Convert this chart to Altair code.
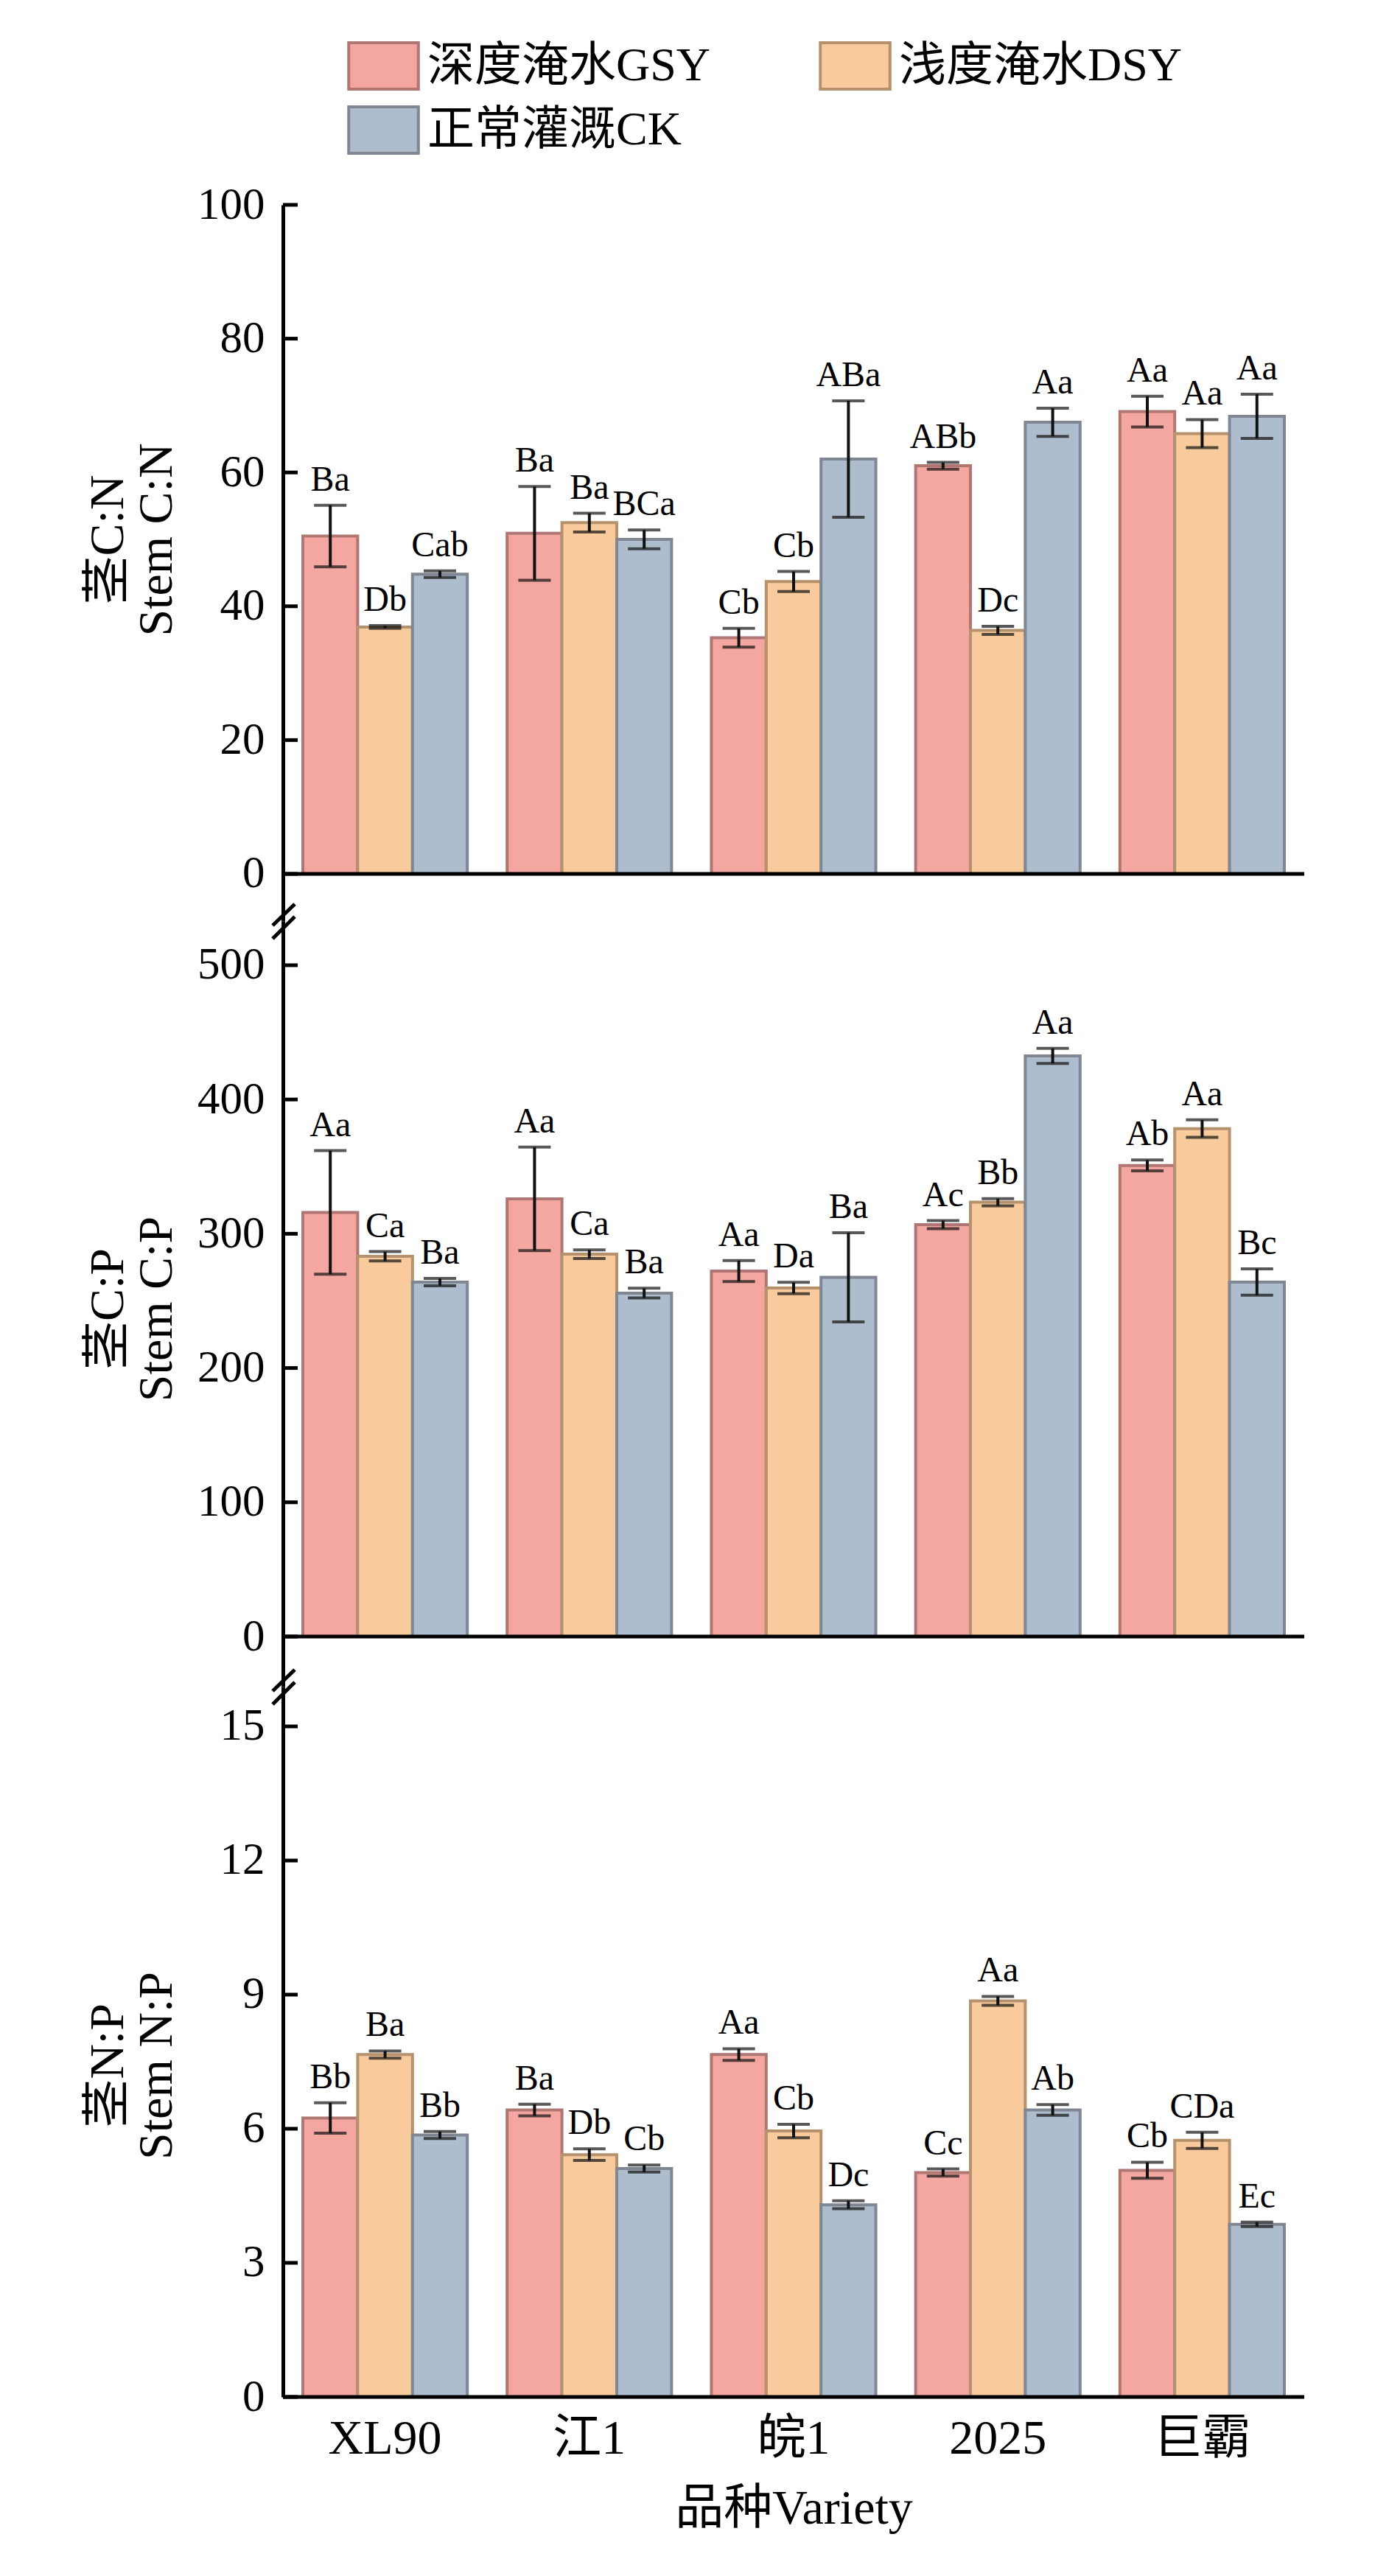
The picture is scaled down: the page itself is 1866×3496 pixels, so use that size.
import altair as alt
import pandas as pd

FONT = "Liberation Serif, Noto Sans CJK SC"

varieties = ["XL90", "江1", "皖1", "2025", "巨霸"]
treatments = ["深度淹水GSY", "浅度淹水DSY", "正常灌溉CK"]
fill_colors = ["#F4A6A0", "#F9CB9C", "#ADBDCE"]
stroke_colors = ["#B07673", "#B5916E", "#808692"]

# Stem C:N
cn_gsy = [50.5, 50.9, 35.3, 61.0, 69.1]
cn_dsy = [36.9, 52.5, 43.7, 36.4, 65.8]
cn_ck = [44.8, 50.0, 62.0, 67.5, 68.4]
cn_gsy_err = [4.6, 7.0, 1.4, 0.5, 2.3]
cn_dsy_err = [0.2, 1.4, 1.5, 0.6, 2.1]
cn_ck_err = [0.5, 1.4, 8.7, 2.1, 3.3]
cn_gsy_lab = ["Ba", "Ba", "Cb", "ABb", "Aa"]
cn_dsy_lab = ["Db", "Ba", "Cb", "Dc", "Aa"]
cn_ck_lab = ["Cab", "BCa", "ABa", "Aa", "Aa"]

# Stem C:P
cp_gsy = [315.9, 326.0, 272.2, 306.8, 350.9]
cp_dsy = [283.2, 284.8, 259.6, 323.5, 378.3]
cp_ck = [264.0, 255.8, 267.6, 432.5, 264.0]
cp_gsy_err = [46.0, 38.5, 7.8, 3.0, 4.0]
cp_dsy_err = [3.5, 3.2, 4.2, 2.7, 6.5]
cp_ck_err = [2.7, 3.6, 33.2, 5.6, 9.8]
cp_gsy_lab = ["Aa", "Aa", "Aa", "Ac", "Ab"]
cp_dsy_lab = ["Ca", "Ca", "Da", "Bb", "Aa"]
cp_ck_lab = ["Ba", "Ba", "Ba", "Aa", "Bc"]

# Stem N:P
np_gsy = [6.24, 6.42, 7.66, 5.02, 5.07]
np_dsy = [7.66, 5.42, 5.95, 8.86, 5.74]
np_ck = [5.86, 5.11, 4.30, 6.42, 3.86]
np_gsy_err = [0.34, 0.13, 0.13, 0.08, 0.18]
np_dsy_err = [0.08, 0.13, 0.15, 0.10, 0.18]
np_ck_err = [0.08, 0.08, 0.09, 0.12, 0.05]
np_gsy_lab = ["Bb", "Ba", "Aa", "Cc", "Cb"]
np_dsy_lab = ["Ba", "Db", "Cb", "Aa", "CDa"]
np_ck_lab = ["Bb", "Cb", "Dc", "Ab", "Ec"]

cn_ticks = [0, 20, 40, 60, 80, 100]
cp_ticks = [0, 100, 200, 300, 400, 500]
np_ticks = [0, 3, 6, 9, 12, 15]

W = 1386


def make_df(means, errs, labs):
    rows = []
    for t, m, e, l in zip(treatments, means, errs, labs):
        for v, mv, ev, lv in zip(varieties, m, e, l):
            rows.append({"variety": v, "treatment": t, "mean": mv,
                         "lo": mv - ev, "hi": mv + ev, "label": lv})
    return pd.DataFrame(rows)


legend = alt.Legend(
    orient="none", legendX=103, legendY=-222, columns=2, direction="horizontal",
    title=None, symbolType="M-1.5,-1H1.5V1H-1.5Z", symbolSize=3969,
    symbolStrokeWidth=4, symbolOpacity=1, labelFont=FONT, labelFontSize=64,
    labelColor="black", labelOffset=26, labelLimit=0, columnPadding=140,
    rowPadding=8,
)


def panel(df, dom, ticks, h, title, title_y, bottom, brk):
    if bottom:
        xaxis = alt.Axis(labelFont=FONT, labelFontSize=66, labelColor="black",
                         labelPadding=24, labelAngle=0, ticks=False, domain=False,
                         title="品种Variety", titleFont=FONT, titleFontSize=66,
                         titleFontWeight="normal", titleColor="black", titlePadding=30)
    else:
        xaxis = None
    x_enc = alt.X("variety:N", sort=varieties,
                  scale=alt.Scale(paddingInner=0.195, paddingOuter=0.0975), axis=xaxis)
    xo = alt.XOffset("treatment:N", sort=treatments,
                     scale=alt.Scale(paddingInner=0, paddingOuter=0))
    yscale = alt.Scale(domain=dom, nice=False, zero=False)
    yaxis = alt.Axis(values=ticks, ticks=False, grid=False, domainColor="black",
                     domainWidth=5, labelFont=FONT, labelFontSize=61,
                     labelColor="black", labelPadding=25, title=title,
                     titleFont=FONT, titleFontSize=66, titleFontWeight="normal",
                     titleColor="black", titleX=-218, titleY=title_y,
                     titleBaseline="alphabetic", titleAlign="center",
                     titleLineHeight=66)

    def yf(f):
        return alt.Y(f"{f}:Q", scale=yscale, axis=yaxis)

    base = alt.Chart(df)
    bars = base.mark_bar(strokeWidth=4).encode(
        x=x_enc, xOffset=xo, y=yf("mean"), y2=alt.datum(0),
        fill=alt.Fill("treatment:N", sort=treatments,
                      scale=alt.Scale(domain=treatments, range=fill_colors), legend=legend),
        stroke=alt.Stroke("treatment:N", sort=treatments,
                          scale=alt.Scale(domain=treatments, range=stroke_colors), legend=legend),
    )
    err = base.mark_rule(strokeWidth=4, color="#111111").encode(
        x=x_enc, xOffset=xo, y=yf("lo"), y2="hi:Q")
    cap_lo = base.mark_tick(orient="horizontal", size=44, thickness=4, color="#111111").encode(
        x=x_enc, xOffset=xo, y=yf("lo"))
    cap_hi = base.mark_tick(orient="horizontal", size=44, thickness=4, color="#111111").encode(
        x=x_enc, xOffset=xo, y=yf("hi"))
    labels = base.mark_text(baseline="alphabetic", dy=-20, fontSize=48, font=FONT,
                            color="black").encode(
        x=x_enc, xOffset=xo, y=yf("hi"), text="label:N")
    zero = alt.Chart(pd.DataFrame({"z": [0]})).mark_rule(strokeWidth=5, color="black").encode(
        y=yf("z"), x=alt.value(0), x2=alt.value(W))
    tk = alt.Chart(pd.DataFrame({"t": ticks})).mark_rule(strokeWidth=5, color="black").encode(
        y=yf("t"), x=alt.value(0), x2=alt.value(20))
    layers = [bars, err, cap_lo, cap_hi, labels, zero, tk]
    if brk:
        one = pd.DataFrame({"k": [0]})
        for a, b in [(6, -23), (24, -6)]:
            layers.append(alt.Chart(one).mark_rule(strokeWidth=5, color="black").encode(
                x=alt.value(-14), x2=alt.value(16), y=alt.value(h + a), y2=alt.value(h + b)))
    return alt.layer(*layers).properties(width=W, height=h)


p1 = panel(make_df([cn_gsy, cn_dsy, cn_ck], [cn_gsy_err, cn_dsy_err, cn_ck_err],
                   [cn_gsy_lab, cn_dsy_lab, cn_ck_lab]),
           [-7.05, 100], cn_ticks, 972, ["茎C:N", "Stem C:N"], 454, False, True)
p2 = panel(make_df([cp_gsy, cp_dsy, cp_ck], [cp_gsy_err, cp_dsy_err, cp_ck_err],
                   [cp_gsy_lab, cp_dsy_lab, cp_ck_lab]),
           [-37.3, 532.9], cp_ticks, 1039, ["茎C:P", "Stem C:P"], 526, False, True)
p3 = panel(make_df([np_gsy, np_dsy, np_ck], [np_gsy_err, np_dsy_err, np_ck_err],
                   [np_gsy_lab, np_dsy_lab, np_ck_lab]),
           [0, 15.89], np_ticks, 964, ["茎N:P", "Stem N:P"], 514, True, False)

chart = alt.vconcat(p1, p2, p3, spacing=0, bounds="flush").resolve_scale(
    y="independent").configure_view(strokeWidth=0).properties(
    padding={"left": 105, "top": 48, "right": 10, "bottom": 10})

chart.save("out.html", embed_options={"renderer": "svg", "actions": False})
